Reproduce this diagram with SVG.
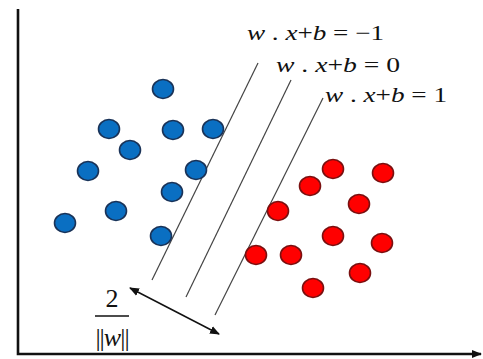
<svg xmlns="http://www.w3.org/2000/svg" width="483" height="359" viewBox="0 0 483 359">
<defs>
<style>
.b{fill:#0a6fc2;stroke:#1a3358;stroke-width:1.6}
.r{fill:#ff0000;stroke:#7a1010;stroke-width:1.6}
.hp{stroke:#444;stroke-width:1.2;fill:none}
.ax{stroke:#111;stroke-width:2.6;fill:none}
.t{font-family:"Liberation Serif",serif;font-size:21px;fill:#111}
.f{font-size:26px}
.i{font-style:italic}
</style>
<marker id="ah" viewBox="0 0 10 10" refX="9" refY="5" markerWidth="10" markerHeight="10" markerUnits="userSpaceOnUse" orient="auto-start-reverse">
<path d="M0,1 L10,5 L0,9 Z" fill="#111"/>
</marker>
<marker id="axh" viewBox="0 0 10 10" refX="9" refY="5" markerWidth="4" markerHeight="4" orient="auto">
<path d="M0,1 L10,5 L0,9 Z" fill="#111"/>
</marker>
</defs>
<g id="axes">
<path class="ax" d="M18,9 L18,354 L481,354" marker-end="url(#axh)"/>
</g>
<g id="connectors">
<line class="hp" x1="258" y1="63" x2="152" y2="280"/>
<line class="hp" x1="291" y1="80" x2="186" y2="297"/>
<line class="hp" x1="323" y1="98" x2="215" y2="315"/>
<line stroke="#111" stroke-width="1.5" x1="130" y1="288" x2="219" y2="334" marker-start="url(#ah)" marker-end="url(#ah)"/>
</g>
<g id="blue">
<ellipse class="b" cx="163" cy="89" rx="10.5" ry="9.5"/>
<ellipse class="b" cx="109" cy="129" rx="10.5" ry="9.5"/>
<ellipse class="b" cx="173" cy="130" rx="10.5" ry="9.5"/>
<ellipse class="b" cx="213" cy="129" rx="10.5" ry="9.5"/>
<ellipse class="b" cx="130" cy="150" rx="10.5" ry="9.5"/>
<ellipse class="b" cx="88" cy="171" rx="10.5" ry="9.5"/>
<ellipse class="b" cx="196" cy="170" rx="10.5" ry="9.5"/>
<ellipse class="b" cx="172" cy="192" rx="10.5" ry="9.5"/>
<ellipse class="b" cx="116" cy="211" rx="10.5" ry="9.5"/>
<ellipse class="b" cx="65" cy="223" rx="10.5" ry="9.5"/>
<ellipse class="b" cx="161" cy="236" rx="10.5" ry="9.5"/>
</g>
<g id="red">
<ellipse class="r" cx="333" cy="169" rx="10.5" ry="9.5"/>
<ellipse class="r" cx="383" cy="173" rx="10.5" ry="9.5"/>
<ellipse class="r" cx="310" cy="186" rx="10.5" ry="9.5"/>
<ellipse class="r" cx="359" cy="204" rx="10.5" ry="9.5"/>
<ellipse class="r" cx="278" cy="211" rx="10.5" ry="9.5"/>
<ellipse class="r" cx="333" cy="236" rx="10.5" ry="9.5"/>
<ellipse class="r" cx="382" cy="243" rx="10.5" ry="9.5"/>
<ellipse class="r" cx="256" cy="255" rx="10.5" ry="9.5"/>
<ellipse class="r" cx="291" cy="255" rx="10.5" ry="9.5"/>
<ellipse class="r" cx="360" cy="273" rx="10.5" ry="9.5"/>
<ellipse class="r" cx="313" cy="288" rx="10.5" ry="9.5"/>
</g>
<g id="labels">
<text class="t" x="247" y="40" textLength="137" lengthAdjust="spacingAndGlyphs"><tspan class="i">w</tspan> . <tspan class="i">x</tspan>+<tspan class="i">b</tspan> = −1</text>
<text class="t" x="276" y="72" textLength="124" lengthAdjust="spacingAndGlyphs"><tspan class="i">w</tspan> . <tspan class="i">x</tspan>+<tspan class="i">b</tspan> = 0</text>
<text class="t" x="325" y="102" textLength="122" lengthAdjust="spacingAndGlyphs"><tspan class="i">w</tspan> . <tspan class="i">x</tspan>+<tspan class="i">b</tspan> = 1</text>
</g>
<g id="margin">
<text class="t f" x="112" y="307" text-anchor="middle">2</text>
<line x1="95" y1="316" x2="129" y2="316" stroke="#111" stroke-width="1.4"/>
<text class="t f" x="112" y="346" text-anchor="middle" letter-spacing="-1">||<tspan class="i">w</tspan>||</text>
</g>
</svg>
